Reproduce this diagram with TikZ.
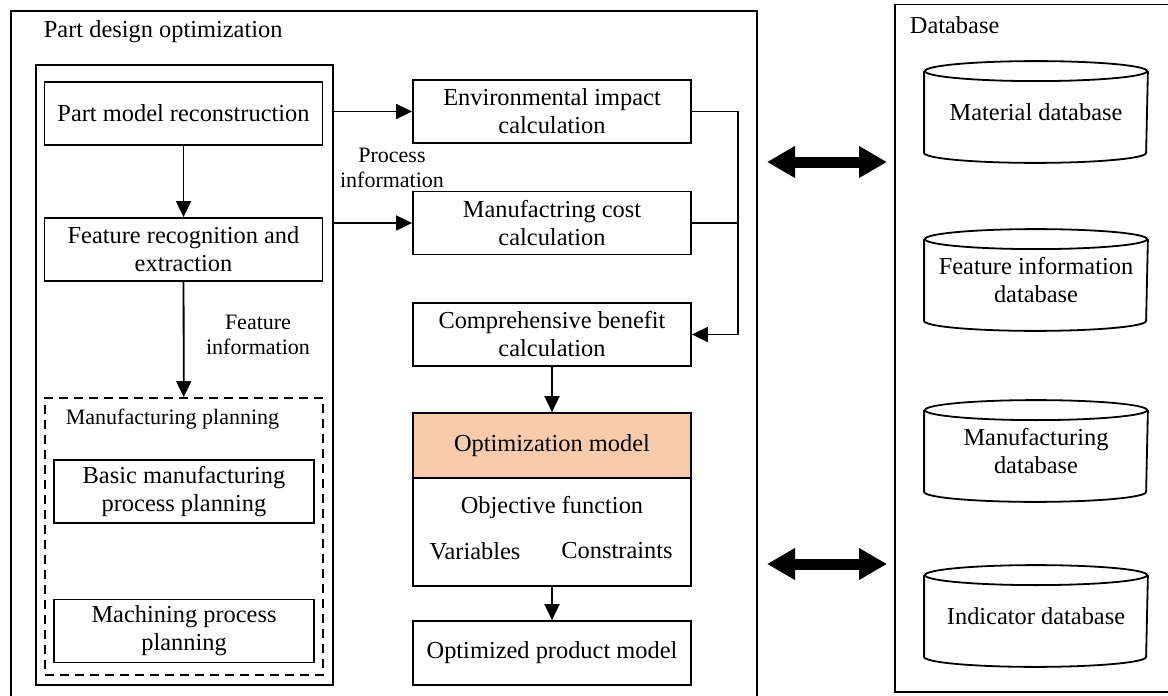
\documentclass[tikz,border=0pt]{standalone}
\usepackage{fontspec}
\setmainfont{Liberation Serif}
\usetikzlibrary{arrows.meta}
\definecolor{optorange}{RGB}{248,203,173}
\begin{document}
\begin{tikzpicture}[x=0.5pt, y=-0.5pt, line width=0.9pt, >={Triangle[length=8pt,width=7.5pt]},
  font=\fontsize{12.2}{14}\selectfont,
  box/.style={draw, minimum width=139pt, minimum height=31.5pt, align=center, inner sep=0pt},
  subbox/.style={box, minimum width=130pt},
  frame/.style={draw, inner sep=0pt},
  lbl/.style={align=center, inner sep=0pt},
  smalllbl/.style={lbl, font=\fontsize{11}{12.8}\selectfont},
  dbnode/.style={minimum width=111pt, minimum height=50pt, inner sep=0pt, align=center},
  bigarrow/.style={line width=5.5pt, {Triangle[length=14pt,width=15pt]}-{Triangle[length=14pt,width=15pt]}}]
 \useasboundingbox (0,0) rectangle (1168,696);
 \draw (11,11) rectangle (757,699);
 \node[lbl, anchor=west] (pdotitle) at (43,32) {Part design optimization};
 \draw (895,4.5) rectangle (1172,692);
 \node[lbl, anchor=west] (dbtitle) at (909,25) {Database};
 \node[frame, minimum width=148.5pt, minimum height=310pt] (pdbox) at (184.5,375) {};
 \node[box] (pmr) at (183.5,113.5) {Part model reconstruction};
 \node[box] (frx) at (183.5,249.5) {Feature recognition and\\extraction};
 \node[frame, dash pattern=on 4.5pt off 3pt, minimum width=139pt, minimum height=138.5pt] (mfp) at (184,536.5) {};
 \node[smalllbl, anchor=west] (mfptitle) at (65,419) {Manufacturing planning};
 \node[subbox] (bmp) at (184,491.5) {Basic manufacturing\\process planning};
 \node[subbox] (mpp) at (184,631) {Machining process\\planning};
 \draw[->] (pmr) -- (frx);
 \draw[->] (frx) -- (mfp);
 \node[smalllbl] (featinfo) at (258,335) {Feature\\information};
 \node[box] (env) at (552,111.5) {Environmental impact\\calculation};
 \node[box] (mcc) at (552,223) {Manufactring cost\\calculation};
 \node[box] (cbc) at (552,334.5) {Comprehensive benefit\\calculation};
 \draw[->] (pdbox.east |- env) -- (env);
 \draw[->] (pdbox.east |- mcc) -- (mcc);
 \node[smalllbl] (procinfo) at (392,168) {Process\\information};
 \draw[->] (env.east) -- ++(46,0) coordinate (bus) |- (cbc.east);
 \draw (mcc.east) -- (mcc.east -| bus);
 \node[box, fill=optorange, minimum height=32.5pt] (opt) at (552,445.5) {Optimization model};
 \node[box, minimum height=54pt] (optbody) at (552,532) {};
 \node[lbl] (objfun) at (552,508) {Objective function};
 \node[lbl] (vars) at (475,551) {Variables};
 \node[lbl] (cons) at (617,551) {Constraints};
 \node[box, minimum height=32pt] (opm) at (552,653) {Optimized product model};
 \draw[->] (cbc) -- (opt);
 \draw[->] (optbody) -- (opm);
 \coordinate (la1) at (767,162);
 \coordinate (ra1) at (887,162);
 \coordinate (la2) at (767,564);
 \coordinate (ra2) at (887,564);
 \draw[bigarrow] (la1) -- (ra1);
 \draw[bigarrow] (la2) -- (ra2);
 \node[dbnode] (matdb) at (1036,112) {Material database};
 \node[dbnode] (featdb) at (1036,280) {Feature information\\database};
 \node[dbnode] (mandb) at (1036,451) {Manufacturing\\database};
 \node[dbnode] (inddb) at (1036,616) {Indicator database};
 \foreach \n in {matdb,featdb,mandb,inddb}{
  \draw ([yshift=-5pt]\n.north west) -- ([yshift=5pt]\n.south west)
    arc[start angle=180, end angle=360, x radius=55.5pt, y radius=5pt] -- ([yshift=-5pt]\n.north east);
  \draw ([yshift=-5pt]\n.north) ellipse [x radius=55.5pt, y radius=5pt];
 }
\end{tikzpicture}
\end{document}
